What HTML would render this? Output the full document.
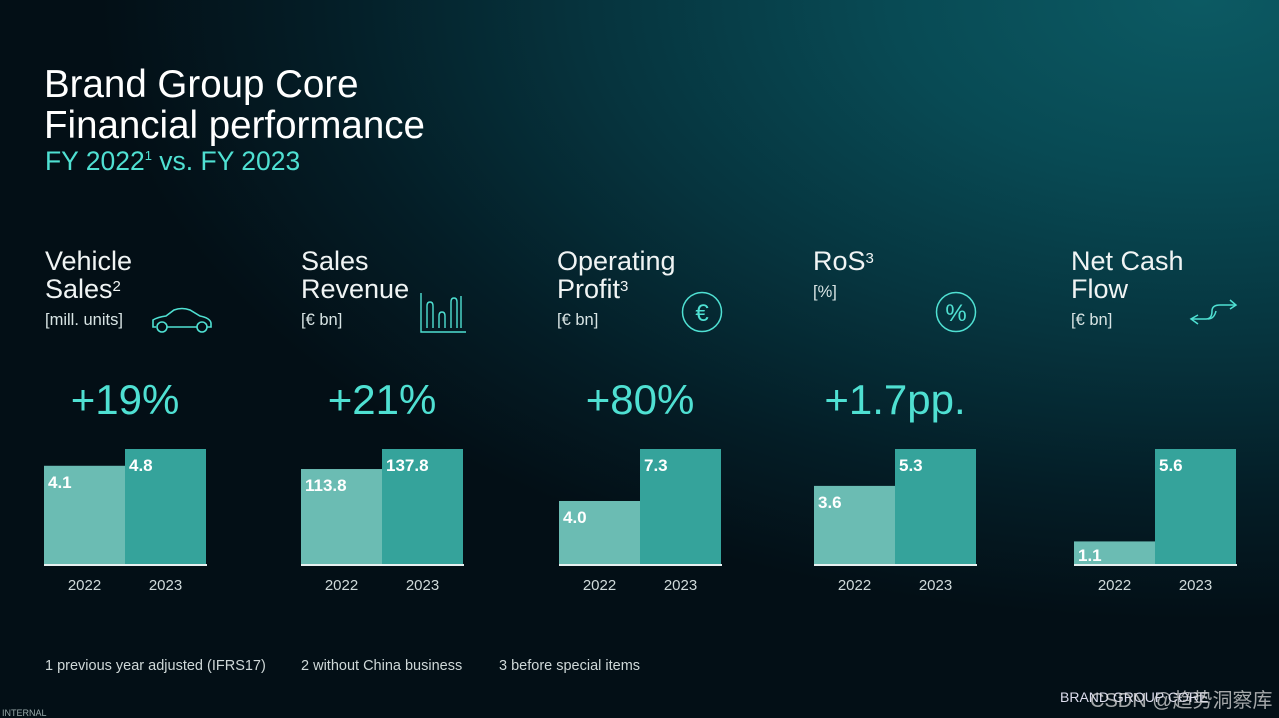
<!DOCTYPE html>
<html style="width:1279px;height:718px;overflow:hidden"><head><meta charset="utf-8"><style>
*{margin:0;padding:0;box-sizing:border-box}
body{width:1279px;height:718px;overflow:hidden;font-family:"Liberation Sans","Noto Sans CJK SC",sans-serif;color:#e8f0f0;position:relative;
background:radial-gradient(ellipse 1100px 620px at 1200px 0px,#0c5a63 0%,#084a54 28%,#06343e 55%,#041d26 80%,#030f16 100%)}
.abs{position:absolute;white-space:nowrap}
h1{position:absolute;left:44px;top:64px;font-size:38.5px;font-weight:normal;line-height:41px;color:#fff;white-space:nowrap}
.sub{left:45px;top:146px;font-size:26.5px;color:#4fe0d2}
.sub sup{font-size:13px;vertical-align:top;position:relative;top:2px}
.title{font-size:27px;line-height:28px;color:#f0f4f4}
.title sup{font-size:15px;vertical-align:top;position:relative;top:-2px}
.unit{font-size:16.5px;color:#d8e4e4}
.foot{font-size:14.5px;color:#cfd8d8;top:658px}
</style></head><body>
<h1>Brand Group Core<br>Financial performance</h1>
<div class="abs sub">FY 2022<sup>1</sup> vs. FY 2023</div>

<div class="abs title" style="left:45px;top:247px">Vehicle<br>Sales<sup>2</sup></div>
<div class="abs unit" style="left:45px;top:311px">[mill. units]</div>
<svg class="abs" style="left:150px;top:305px" width="64" height="28" fill="none" stroke="#4fe0d2" stroke-width="1.6"><path d="M6 22 H3 V15 Q8 12 16 11 L24 5 Q32 2 40 5 L50 11 Q60 13 61 18 V22 H57"/><circle cx="12" cy="22" r="5"/><circle cx="52" cy="22" r="5"/><path d="M17 22 H47"/></svg>

<div class="abs title" style="left:301px;top:247px">Sales<br>Revenue</div>
<div class="abs unit" style="left:301px;top:311px">[€ bn]</div>
<svg class="abs" style="left:420px;top:292px" width="48" height="42" fill="none" stroke="#4fe0d2" stroke-width="1.4"><path d="M1 1 V40 H46"/><path d="M7 36 V14 Q7 10 10 10 Q13 10 13 14 V36"/><path d="M19 36 V24 Q19 20 22 20 Q25 20 25 24 V36"/><path d="M31 36 V10 Q31 6 34 6 Q37 6 37 10 V36"/><path d="M41 36 V4"/></svg>

<div class="abs title" style="left:557px;top:247px">Operating<br>Profit<sup>3</sup></div>
<div class="abs unit" style="left:557px;top:311px">[€ bn]</div>
<svg class="abs" style="left:681px;top:291px" width="42" height="42"><circle cx="21" cy="21" r="19.5" fill="none" stroke="#4fe0d2" stroke-width="1.5"/><text x="21" y="30" text-anchor="middle" font-size="24" fill="#4fe0d2" font-family="Liberation Sans">€</text></svg>

<div class="abs title" style="left:813px;top:247px">RoS<sup>3</sup></div>
<div class="abs unit" style="left:813px;top:283px">[%]</div>
<svg class="abs" style="left:935px;top:291px" width="42" height="42"><circle cx="21" cy="21" r="19.5" fill="none" stroke="#4fe0d2" stroke-width="1.5"/><text x="21" y="30" text-anchor="middle" font-size="24" fill="#4fe0d2" font-family="Liberation Sans">%</text></svg>

<div class="abs title" style="left:1071px;top:247px">Net Cash<br>Flow</div>
<div class="abs unit" style="left:1071px;top:311px">[€ bn]</div>
<svg class="abs" style="left:1188px;top:297px" width="52" height="30" fill="none" stroke="#4fe0d2" stroke-width="1.5"><path d="M10 18 L3 22 L10 27"/><path d="M3 22 H18 Q24 22 24 14 Q24 8 32 8 H48"/><path d="M42 3 L48 8 L42 12"/><path d="M20 22 Q26 22 28 14"/></svg>

<svg id="chart" class="abs" style="left:0;top:0" width="1279" height="718"></svg>

<div class="abs foot" style="left:45px">1 previous year adjusted (IFRS17)</div>
<div class="abs foot" style="left:301px">2 without China business</div>
<div class="abs foot" style="left:499px">3 before special items</div>
<div class="abs" style="left:1060px;top:689px;font-size:14px;color:#dde">BRAND GROUP CORE</div>
<div class="abs" style="left:1090px;top:684px;font-size:20px;color:rgba(220,220,220,0.75)">CSDN @趋势洞察库</div>
<div class="abs" style="left:2px;top:708px;font-size:9px;color:#9aa">INTERNAL</div>

<script>
const categories=["Vehicle Sales","Sales Revenue","Operating Profit","RoS","Net Cash Flow"];
const years=["2022","2023"];
const values2022=[4.1,113.8,4.0,3.6,1.1];
const values2023=[4.8,137.8,7.3,5.3,5.6];
const labels2022=["4.1","113.8","4.0","3.6","1.1"];
const labels2023=["4.8","137.8","7.3","5.3","5.6"];
const changes=["+19%","+21%","+80%","+1.7pp.","+"];
const changeShow=[true,true,true,true,false];
const ns="http://www.w3.org/2000/svg";
const svg=document.getElementById('chart');
const lefts=[44,301,559,814,1074];
const base=564,maxH=115,bw=81;
function y(v,m){return base-v/m*maxH;}
function mk(t,a){const e=document.createElementNS(ns,t);for(const k in a)e.setAttribute(k,a[k]);svg.appendChild(e);return e;}
categories.forEach((c,i)=>{
  const m=Math.max(values2022[i],values2023[i]);
  const x0=lefts[i];
  [[values2022[i],labels2022[i],"#6bbcb3"],[values2023[i],labels2023[i],"#35a39b"]].forEach((d,j)=>{
    const x=x0+j*bw, yy=y(d[0],m);
    const r=mk('rect',{x:x,y:yy,width:bw,height:base-yy,fill:d[2]});
    
    
    const t=mk('text',{x:x+4,y:Math.min(yy+22,base-3),fill:'#fff','font-size':17,'font-weight':'bold','font-family':'Liberation Sans'});
    t.textContent=d[1];
    
    
    const yl=mk('text',{x:x+bw/2,y:590,fill:'#d0dada','font-size':15,'text-anchor':'middle','font-family':'Liberation Sans'});
    yl.textContent=years[j];
    
    
  });
  const bl=mk('line',{x1:x0,x2:x0+2*bw+1,y1:base+1,y2:base+1,stroke:'#e8f0f0','stroke-width':2});
  
  
  if(changeShow[i]){
    const p=mk('text',{x:x0+bw,y:414,fill:'#4fe0d2','font-size':42,'text-anchor':'middle','font-family':'Liberation Sans'});
    p.textContent=changes[i];
    
    
  }
});
</script>
</body></html>
